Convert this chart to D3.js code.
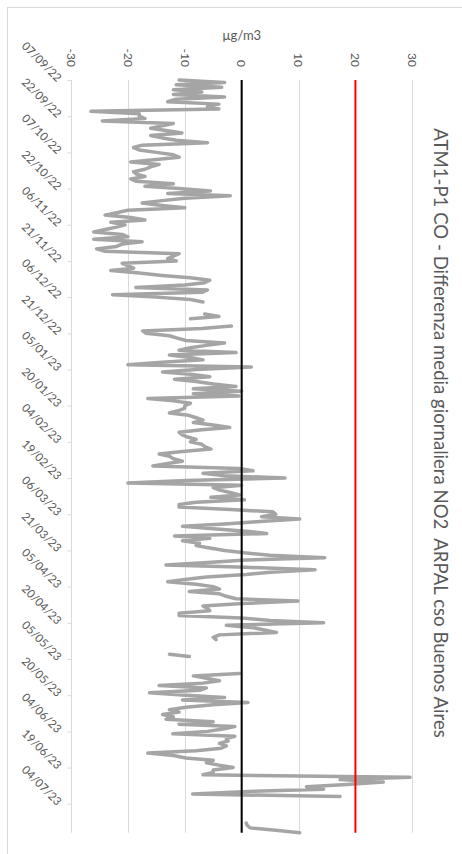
<!DOCTYPE html>
<html>
<head>
<meta charset="utf-8">
<script src="https://cdn.jsdelivr.net/npm/d3@7"></script>
<style>
  html, body { margin: 0; padding: 0; background: #ffffff; }
  svg { display: block; }
</style>
</head>
<body>
<svg id="chart" width="462" height="854"></svg>
<script>
// Daily mean NO2 difference (µg/m3), one value per day from startDate; null = no data
const startDate = "2022-09-07";
const dateTickLabels = [
  "07/09/22", "22/09/22", "07/10/22", "22/10/22", "06/11/22", "21/11/22", "06/12/22",
  "21/12/22", "05/01/23", "20/01/23", "04/02/23", "19/02/23", "06/03/23", "21/03/23",
  "05/04/23", "20/04/23", "05/05/23", "20/05/23", "04/06/23", "19/06/23", "04/07/23"
];
const valueTicks = [-30, -20, -10, 0, 10, 20, 30];
const no2Diff = [
  -11, -3, -11.5, -3.5, -12, -7, -12, -3, -11.5, -13,
  -4, -6, -4, -26.5, -18, -18, -17, -24.5, -12, -14,
  -16, -13, -10.5, -16, -14, -11.5, -6, -17.5, -19, -18,
  -15, -12, -11, -15, -19.5, -14.5, -16, -17, -19, -18.5,
  -17, -19.5, -18.5, -12, -17, -11, -5.5, -13, -2, -10,
  -14, -17.5, -14, -10, -20, -22, -24, -19.5, -17, -23,
  -20.5, -22, -24, -26, -21, -20, -26, -17.5, -21, -22,
  -25.5, -24, -11, -12, -13, -11.5, -21, -20, -19, -23,
  -18, -14, -9, -5.6, -6.5, -10, -18.6, -6, -7, -22.7,
  -15, -9, -6.8, null, null, null, null, -6.5, -4, -9,
  null, null, -1.8, -7, -17.4, -16.8, -12.7, -11.3, -9.8, -3,
  -6.2, -9, -11, -1, -12.7, -9, -6.8, -14, -20, 1.7,
  -8, -13.9, -9, -5.6, -11.8, -8, -5, -1, -8.5, 0,
  -8.5, -0.5, -16.5, -12, -9, -10, -10, -11, -12.7, -9.3,
  -8, -6.8, -8.5, -5, -2.1, -7, -11, -10.5, -9.5, -8,
  -9, -7, -6.5, -5.4, -10.4, -14.5, -12.7, -12, -10.4, -13,
  -15.6, -0.4, 2, -6.8, -3, 7.6, -9.8, -20, 0, -5,
  -3.9, -2, -0.4, -5.4, 0.5, -8, -11, -11, -2, 5.5,
  6, 3.5, 10.2, 3.2, -3, -10.4, -5, 0.8, 4.4, -11.8,
  -5.6, -10.4, -7.4, -8, -5.6, -3, 0.5, 5, 14.6, 0.8,
  -6, -13.3, 0.8, 12.9, 5, 0.8, -6.2, -10, -13, -8,
  -5, -3.9, -9.2, -3.9, -2.7, -1, 9.9, 0.2, -6.8, -6,
  -5.6, -11, -11, 0, 5, 14.4, -2.7, 2, 4, 6.1,
  -3.9, -5, -4.5, null, null, null, null, null, -12.7, -9.2,
  null, null, null, null, null, null, -0.4, -8.5, -6.2, -3.9,
  -6.8, -14.5, -6.2, -7.4, -16.2, -9.8, -3, -10.4, 1.1, -5,
  -9.8, -12.7, -11, -13.9, -12, -13.3, -5, -11, -1.2, -3.3,
  -6, -12.1, -1.2, -2.7, -2.4, -3.9, -2.7, -3.6, -8, -16.5,
  -12, -9.8, -5, -6.2, -4, -1.5, -5, -5, -6.8, 29.6,
  17.3, 24.9, 18.5, 11.4, 14.4, 0.2, -8.6, 17.3, null, null,
  null, null, null, null, null, null, null, null, 0.8, 1.0,
  1.5, 6, 10.2
];
// Constant reference series: zero line and 20 µg/m3 threshold
const referenceLevels = [0, 20];
const referenceColors = ["#000000", "#ff0000"];
const titleText = "ATM1-P1 CO - Differenza media giornaliera NO2  ARPAL cso Buenos Aires";
const unitLabel = "µg/m3";

const FONT = "Lato, 'Open Sans', 'Liberation Sans', sans-serif";
const TEXT_COLOR = "#595959";
const GRID_COLOR = "#d9d9d9";

const parseISO = d3.timeParse("%Y-%m-%d");
const parseTick = d3.timeParse("%d/%m/%y");
const fmtTick = d3.timeFormat("%d/%m/%y");
const t0 = parseISO(startDate);
const series = no2Diff.map((v, i) => ({ date: d3.timeDay.offset(t0, i), value: v }));
const t1 = series[series.length - 1].date;

// The chart is laid out sideways: dates run down the page, values run across
const plot = { left: 71, right: 412.3, top: 80, bottom: 832.7 };
const x = d3.scaleLinear().domain([-30, 30]).range([plot.left, plot.right]);
const y = d3.scaleTime().domain([t0, t1]).range([plot.top, plot.bottom]);

const svg = d3.select("#chart");

// Chart area border
svg.append("rect")
  .attr("x", 7.5).attr("y", 7.5)
  .attr("width", 520).attr("height", 900)
  .attr("fill", "#ffffff")
  .attr("stroke", GRID_COLOR)
  .attr("stroke-width", 1);

// Value gridlines
svg.append("g")
  .selectAll("line")
  .data(valueTicks)
  .join("line")
  .attr("x1", d => Math.round(x(d)) + 0.5)
  .attr("x2", d => Math.round(x(d)) + 0.5)
  .attr("y1", plot.top)
  .attr("y2", plot.bottom)
  .attr("stroke", GRID_COLOR)
  .attr("stroke-width", 1);

// Value tick labels (rotated)
svg.append("g")
  .selectAll("text")
  .data(valueTicks)
  .join("text")
  .attr("transform", d => `translate(${x(d)},67) rotate(90)`)
  .attr("text-anchor", "end")
  .attr("dy", "0.35em")
  .attr("font-family", FONT)
  .attr("font-size", 12)
  .attr("fill", TEXT_COLOR)
  .text(d => d);

// Unit label
svg.append("text")
  .attr("x", x(0))
  .attr("y", 37)
  .attr("text-anchor", "middle")
  .attr("dominant-baseline", "middle")
  .attr("font-family", FONT)
  .attr("font-size", 13)
  .attr("fill", TEXT_COLOR)
  .text(unitLabel);

// Date axis along the left edge
const tickDates = dateTickLabels.map(parseTick);
const dateAxis = d3.axisLeft(y)
  .tickValues(tickDates)
  .tickFormat(fmtTick)
  .tickSize(4)
  .tickSizeOuter(0);
const gDate = svg.append("g")
  .attr("transform", `translate(${Math.round(plot.left) + 0.5},0)`)
  .call(dateAxis);
gDate.select(".domain").remove();
gDate.selectAll(".tick line").attr("stroke", GRID_COLOR);
gDate.selectAll(".tick text")
  .attr("x", 0)
  .attr("dy", "0.35em")
  .attr("text-anchor", "end")
  .attr("transform", "translate(-12,-1) rotate(45)")
  .attr("font-family", FONT)
  .attr("font-size", 11.5)
  .attr("fill", TEXT_COLOR);

// Daily difference series
const line = d3.line()
  .defined(d => d.value !== null)
  .x(d => x(d.value))
  .y(d => y(d.date));

svg.append("path")
  .datum(series)
  .attr("d", line)
  .attr("fill", "none")
  .attr("stroke", "#a5a5a5")
  .attr("stroke-width", 3.5)
  .attr("stroke-linejoin", "round")
  .attr("stroke-linecap", "round");

// Reference series across the full date range
referenceLevels.forEach((level, i) => {
  const refData = series.map(d => ({ date: d.date, value: level }));
  svg.append("path")
    .datum(refData)
    .attr("d", line)
    .attr("fill", "none")
    .attr("stroke", referenceColors[i])
    .attr("stroke-width", 2);
});

// Title, running down the right side
const title = svg.append("text")
  .attr("transform", `translate(441,433) rotate(90)`)
  .attr("text-anchor", "middle")
  .attr("dy", "0.35em")
  .attr("font-family", FONT)
  .attr("font-weight", 400)
  .attr("font-size", 18)
  .attr("fill", TEXT_COLOR)
  .style("white-space", "pre")
  .text(titleText);
const len = title.node().getComputedTextLength();
title.attr("font-size", 18 * 610 / len);
</script>
</body>
</html>
